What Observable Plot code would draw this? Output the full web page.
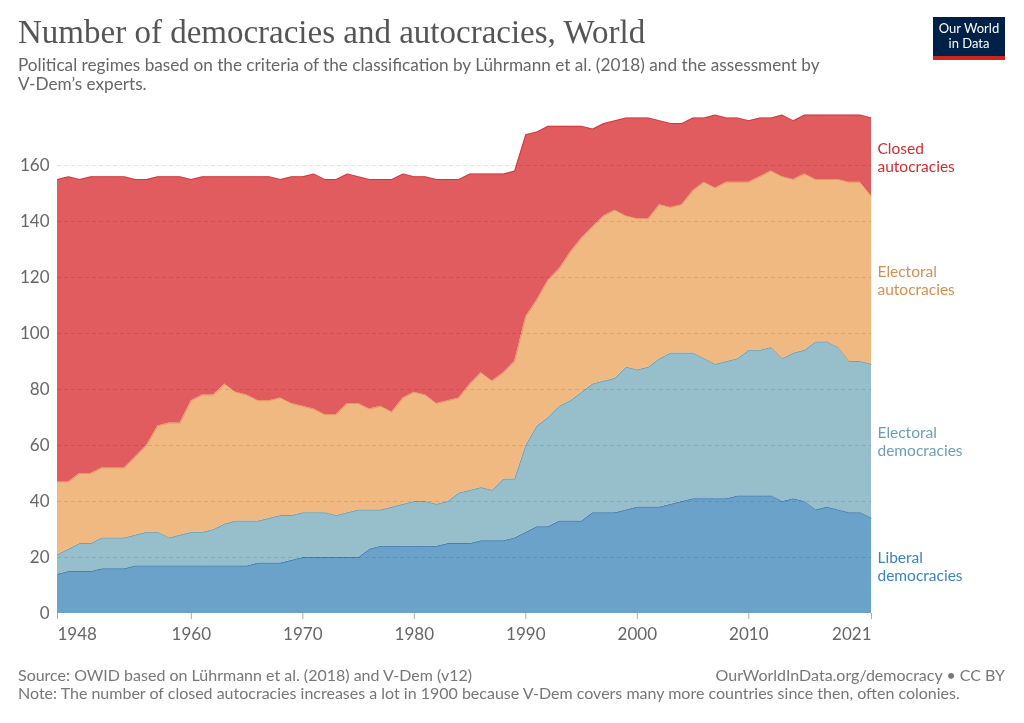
<!DOCTYPE html>
<html>
<head>
<meta charset="utf-8">
<script src="https://cdn.jsdelivr.net/npm/d3@7"></script>
<script src="https://cdn.jsdelivr.net/npm/@observablehq/plot@0.6"></script>
<style>
  html, body { margin: 0; padding: 0; background: #fff; }
  #page { position: relative; width: 1024px; height: 723px; overflow: hidden; font-family: Lato, "Noto Sans", sans-serif; }
  #title { position: absolute; left: 18px; top: 16px; font-family: "Liberation Serif", serif; font-size: 33px; line-height: 33px; color: #555; white-space: nowrap; }
  #subtitle { position: absolute; left: 18px; top: 55px; font-size: 17.2px; line-height: 19px; color: #666; width: 900px; white-space: nowrap; }
  #logo { position: absolute; left: 933px; top: 17px; width: 72px; background: #002147; border-bottom: 4px solid #ce261e; color: #fff; font-size: 13px; line-height: 15px; text-align: center; padding-top: 4px; box-sizing: content-box; height: 35px; }
  #chart { position: absolute; left: 0; top: 100px; }
  #source { position: absolute; left: 18px; top: 666px; font-size: 16px; line-height: 18px; color: #777; white-space: nowrap; }
  #credit { position: absolute; right: 19px; top: 666px; font-size: 16px; line-height: 18px; color: #777; white-space: nowrap; }
</style>
</head>
<body>
<div id="page">
  <div id="title">Number of democracies and autocracies, World</div>
  <div id="subtitle">Political regimes based on the criteria of the classification by Lührmann et al. (2018) and the assessment by<br>V-Dem’s experts.</div>
  <div id="logo">Our World<br>in Data</div>
  <div id="chart"></div>
  <div id="source">Source: OWID based on Lührmann et al. (2018) and V-Dem (v12)<br>Note: The number of closed autocracies increases a lot in 1900 because V-Dem covers many more countries since then, often colonies.</div>
  <div id="credit">OurWorldInData.org/democracy • CC BY</div>
</div>
<script>
const years = [
  1948,1949,1950,1951,1952,1953,1954,1955,1956,1957,
  1958,1959,1960,1961,1962,1963,1964,1965,1966,1967,
  1968,1969,1970,1971,1972,1973,1974,1975,1976,1977,
  1978,1979,1980,1981,1982,1983,1984,1985,1986,1987,
  1988,1989,1990,1991,1992,1993,1994,1995,1996,1997,
  1998,1999,2000,2001,2002,2003,2004,2005,2006,2007,
  2008,2009,2010,2011,2012,2013,2014,2015,2016,2017,
  2018,2019,2020,2021
];
const liberalDemocracies = [
  14,15,15,15,16,16,16,17,17,17,
  17,17,17,17,17,17,17,17,18,18,
  18,19,20,20,20,20,20,20,23,24,
  24,24,24,24,24,25,25,25,26,26,
  26,27,29,31,31,33,33,33,36,36,
  36,37,38,38,38,39,40,41,41,41,
  41,42,42,42,42,40,41,40,37,38,
  37,36,36,34
];
const electoralDemocracies = [
  7,8,10,10,11,11,11,11,12,12,
  10,11,12,12,13,15,16,16,15,16,
  17,16,16,16,16,15,16,17,14,13,
  14,15,16,16,15,15,18,19,19,18,
  22,21,31,36,39,41,43,46,46,47,
  48,51,49,50,53,54,53,52,50,48,
  49,49,52,52,53,51,52,54,60,59,
  58,54,54,55
];
const electoralAutocracies = [
  26,24,25,25,25,25,25,28,31,38,
  41,40,47,49,48,50,46,45,43,42,
  42,40,38,37,35,36,39,38,36,37,
  34,38,39,38,36,36,34,38,41,39,
  38,42,46,45,49,49,53,55,56,59,
  60,54,54,53,55,52,53,58,63,63,
  64,63,60,62,63,65,62,63,58,58,
  60,64,64,60
];
const closedAutocracies = [
  108,109,105,106,104,104,104,99,95,89,
  88,88,79,78,78,74,77,78,80,80,
  78,81,82,84,84,84,82,81,82,81,
  83,80,77,78,80,79,78,75,71,74,
  71,68,65,60,55,51,45,40,35,33,
  32,35,36,36,30,30,29,26,23,26,
  23,23,22,21,19,22,21,21,23,23,
  23,24,24,28
];
const regimes = ["Liberal democracies", "Electoral democracies", "Electoral autocracies", "Closed autocracies"];
const labelText = ["Liberal\ndemocracies", "Electoral\ndemocracies", "Electoral\nautocracies", "Closed\nautocracies"];
const yTicks = [0, 20, 40, 60, 80, 100, 120, 140, 160];
const xTicksMiddle = [1960, 1970, 1980, 1990, 2000, 2010];
const xTickFirst = [1948];
const xTickLast = [2021];

const fills = ["#6aa2ca", "#97becb", "#f0b982", "#e05c5e"];
const labelColors = ["#3c84c0", "#6c9fb6", "#d58f52", "#d42b2f"];

const series = [liberalDemocracies, electoralDemocracies, electoralAutocracies, closedAutocracies];
const data = [];
regimes.forEach((r, i) => years.forEach((y, j) => data.push({year: y, regime: r, count: series[i][j]})));
const last = data.filter(d => d.year === years[years.length - 1]);

const stackOpts = {x: "year", y: "count", z: "regime", order: regimes};

const chart = Plot.plot({
  width: 1024,
  height: 545,
  marginLeft: 57,
  marginRight: 153,
  marginTop: 9,
  marginBottom: 32,
  x: {domain: [1948, 2021]},
  y: {domain: [0, 180]},
  color: {domain: regimes, range: fills},
  style: {fontFamily: "Lato, sans-serif", background: "white", overflow: "visible"},
  marks: [
    Plot.areaY(data, {...stackOpts, fill: "regime"}),
    Plot.lineY(data, Plot.stackY2({...stackOpts, stroke: "regime", strokeWidth: 1, strokeOpacity: 0.6, mixBlendMode: "multiply"})),
    Plot.gridY(yTicks.filter(t => t > 0), {stroke: "#000", strokeOpacity: 0.1, strokeDasharray: "4,3"}),
    Plot.axisY({ticks: yTicks, tickSize: 0, tickPadding: 8, fontSize: 17, fill: "#666", label: null}),
    Plot.axisX({ticks: xTicksMiddle, tickFormat: d => String(d), tickSize: 6, tickPadding: 8, fontSize: 17, fill: "#666", stroke: "#aaa", label: null}),
    Plot.axisX({ticks: xTickFirst, tickFormat: d => String(d), tickSize: 6, tickPadding: 8, fontSize: 17, fill: "#666", stroke: "#aaa", textAnchor: "start", label: null}),
    Plot.axisX({ticks: xTickLast, tickFormat: d => String(d), tickSize: 6, tickPadding: 8, fontSize: 17, fill: "#666", stroke: "#aaa", textAnchor: "end", label: null}),
    ...regimes.map((r, i) => Plot.text(last, Plot.stackY({
      ...stackOpts,
      text: d => d.regime === r ? labelText[i] : null,
      fill: labelColors[i],
      textAnchor: "start",
      dx: 6,
      fontSize: 15.5,
      lineHeight: 1.15
    })))
  ]
});
document.getElementById("chart").appendChild(chart);
</script>
</body>
</html>
